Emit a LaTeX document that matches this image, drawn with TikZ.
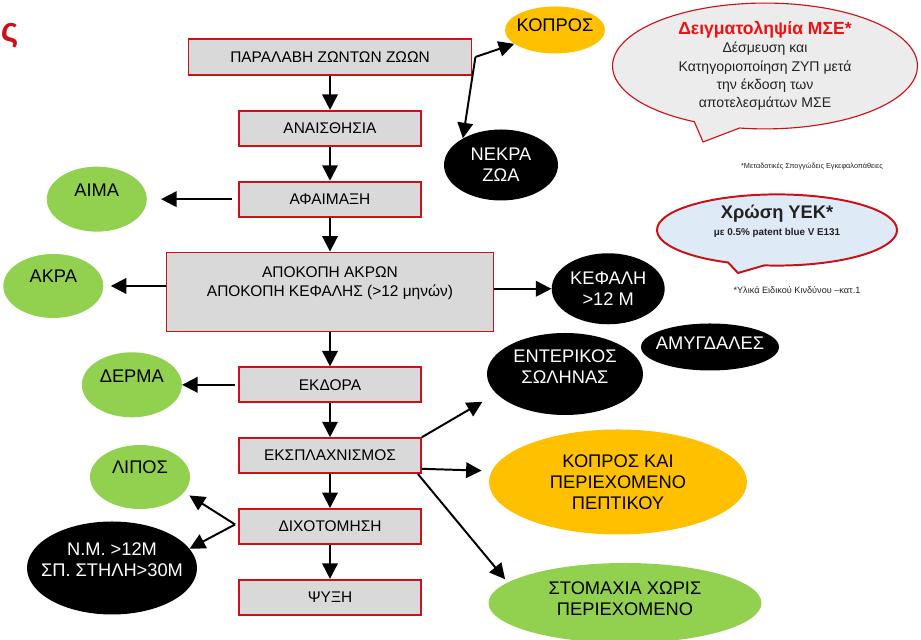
\documentclass[tikz,border=0pt]{standalone}
\usepackage{fontspec}
\setmainfont{Liberation Sans}
\usetikzlibrary{shapes.geometric,shapes.callouts,positioning,arrows.meta}
\definecolor{boxred}{HTML}{CC1018}
\definecolor{boxgray}{HTML}{D9D9D9}
\definecolor{leafgreen}{HTML}{92D050}
\definecolor{amber}{HTML}{FFC000}
\definecolor{calloutgray}{HTML}{ECECEC}
\definecolor{paleblue}{HTML}{DEEAF6}
\definecolor{alertred}{HTML}{EE1111}
\definecolor{darktext}{HTML}{222222}

\begin{document}
\begin{tikzpicture}
  [
    stage/.style={draw=boxred, fill=boxgray, line width=1.3pt, rectangle, minimum width=4.55cm, minimum height=0.875cm, inner sep=2pt, font=\fontsize{11}{13.5}\selectfont, align=center},
    blob/.style={ellipse, inner sep=0pt, font=\fontsize{13}{15}\selectfont, align=center},
    byprod/.style={blob, fill=leafgreen},
    feces/.style={blob, fill=amber},
    srm/.style={blob, fill=black, text=white},
    bubble/.style={ellipse callout, draw=boxred, inner sep=0pt, align=center, text=darktext, callout pointer arc=18},
    note/.style={font=\fontsize{6.5}{8}\selectfont, text=darktext, inner sep=0pt},
    node distance=0.85cm,
    arr/.style={-{Triangle[length=11pt,width=11pt]}, line width=1.4pt}
  ]
  \useasboundingbox (0,0) rectangle (23.025,16);

  % main line
  \node (parl) [stage, minimum width=7.075cm, minimum height=0.9cm] at (8.25,14.575) {ΠΑΡΑΛΑΒΗ ΖΩΝΤΩΝ ΖΩΩΝ};
  \node (anais) [stage, below=of parl] {ΑΝΑΙΣΘΗΣΙΑ};
  \node (afaim) [stage, below=of anais] {ΑΦΑΙΜΑΞΗ};
  \node (apok) [stage, below=of afaim, minimum width=8.175cm, minimum height=1.975cm, text depth=0.53cm] {ΑΠΟΚΟΠΗ ΑΚΡΩΝ\\ΑΠΟΚΟΠΗ ΚΕΦΑΛΗΣ (>12 μηνών)};
  \node (ekd) [stage, below=of apok] {ΕΚΔΟΡΑ};
  \node (eksp) [stage, below=of ekd] {ΕΚΣΠΛΑΧΝΙΣΜΟΣ};
  \node (dix) [stage, below=of eksp] {ΔΙΧΟΤΟΜΗΣΗ};
  \node (psyx) [stage, below=of dix] {ΨΥΞΗ};

  % by-products
  \node (aima) [byprod, left=2.275cm of afaim, minimum width=2.5cm, minimum height=1.625cm, text depth=0.45cm] {ΑΙΜΑ};
  \node (akra) [byprod, left=1.55cm of apok, yshift=0.15cm, minimum width=2.5cm, minimum height=1.6cm, text depth=0.5cm] {ΑΚΡΑ};
  \node (derma) [byprod, left=1.4cm of ekd, minimum width=2.5cm, minimum height=1.625cm, text depth=0.45cm] {ΔΕΡΜΑ};
  \node (lipos) [byprod, minimum width=2.5cm, minimum height=1.6cm, text depth=0.5cm] at (3.5,4.075) {ΛΙΠΟΣ};
  \node (stom) [byprod, minimum width=6.825cm, minimum height=2cm, text depth=0.2cm] at (15.625,0.925) {ΣΤΟΜΑΧΙΑ ΧΩΡΙΣ\\ΠΕΡΙΕΧΟΜΕΝΟ};
  \node (kopros) [feces, minimum width=2.5cm, minimum height=1.175cm, inner xsep=-0.15cm, text depth=0.25cm] at (13.875,15.25) {ΚΟΠΡΟΣ};
  \node (kopkai) [feces, minimum width=6.45cm, minimum height=2.625cm] at (15.45,3.95) {ΚΟΠΡΟΣ ΚΑΙ\\ΠΕΡΙΕΧΟΜΕΝΟ\\ΠΕΠΤΙΚΟΥ};

  % specified risk material
  \node (nekra) [srm, minimum width=2.85cm, minimum height=1.775cm] at (12.525,11.875) {ΝΕΚΡΑ\\ΖΩΑ};
  \node (kefali) [srm, right=1.425cm of apok, yshift=0.08cm, minimum width=2.825cm, minimum height=1.775cm] {ΚΕΦΑΛΗ\\>12 Μ};
  \node (enter) [srm, minimum width=3.9cm, minimum height=2.05cm, text depth=0.35cm] at (14.125,6.65) {ΕΝΤΕΡΙΚΟΣ\\ΣΩΛΗΝΑΣ};
  \node (amyg) [srm, minimum width=3.45cm, minimum height=1.175cm, inner xsep=-0.2cm, text depth=0.2cm] at (17.75,7.325) {ΑΜΥΓΔΑΛΕΣ};
  \node (nm) [srm, minimum width=4.25cm, minimum height=2.325cm, inner xsep=-0.3cm, text depth=0.4cm] at (2.8,1.8) {Ν.Μ. >12Μ\\ΣΠ. ΣΤΗΛΗ>30Μ};

  % callouts and notes
  \coordinate (tipA) at (17.575,12.45);
  \coordinate (tipB) at (18.45,9.175);
  \node (mse) [bubble, fill=calloutgray, line width=0.8pt, minimum width=7.625cm, minimum height=2.95cm, callout absolute pointer={(tipA)}, font=\fontsize{10}{13}\selectfont] at (19.125,14.35) {{\color{alertred}\bfseries\fontsize{12.5}{14}\selectfont Δειγματοληψία ΜΣΕ*}\\Δέσμευση και\\Κατηγοριοποίηση ΖΥΠ μετά\\την έκδοση των\\αποτελεσμάτων ΜΣΕ};
  \node (yek) [bubble, fill=paleblue, line width=1.4pt, minimum width=6cm, minimum height=1.65cm, callout absolute pointer={(tipB)}, font=\bfseries\fontsize{7}{12}\selectfont, text depth=0.5cm] at (19.425,10.25) {{\fontsize{13}{15}\selectfont Χρώση ΥΕΚ*}\\με 0.5\% patent blue V E131};
  \node (fnA) [note, font=\fontsize{5.2}{6}\selectfont] at (20.3,11.825) {*Μεταδοτικές Σπογγώδεις Εγκεφαλοπάθειες};
  \node (fnB) [note] at (19.925,8.75) {*Υλικά Ειδικού Κινδύνου –κατ.1};
  \node (sig) [text=boxred, font=\bfseries\fontsize{24}{24}\selectfont, anchor=base east, inner sep=0pt] at (0.47,14.95) {ς};

  \draw [arr] (parl) -- (anais);
  \draw [arr] (anais) -- (afaim);
  \draw [arr] (afaim) -- (apok);
  \draw [arr] (apok) -- (ekd);
  \draw [arr] (ekd) -- (eksp);
  \draw [arr] (eksp) -- (dix);
  \draw [arr] (dix) -- (psyx);

  \coordinate (split) at ([xshift=0.075cm]parl.east);
  \draw [arr] (split) -- (kopros);
  \draw [arr] (split) -- (nekra.145);
  \draw [arr, shorten <=0.15cm, shorten >=0.35cm] (afaim.west) -- (afaim.west -| aima.east);
  \draw [arr, shorten >=0.18cm] (apok.west |- akra.east) -- (akra.east);
  \draw [arr] (apok.east |- kefali.west) -- (kefali.west);
  \draw [arr, shorten <=0.08cm] (ekd.west) -- (ekd.west -| derma.east);
  \draw [arr, shorten >=0.4cm] (eksp.north east) -- (enter.196);
  \draw [arr, shorten >=0.25cm] ([yshift=-0.33cm]eksp.east) -- (kopkai.175);
  \draw [arr, shorten >=0.1cm] ([xshift=-0.1cm]eksp.south east) -- (stom.170);
  \coordinate (cut) at ([xshift=-0.075cm,yshift=0.05cm]dix.west);
  \draw [arr, shorten >=0.15cm] (cut) -- (lipos.-19);
  \draw [arr] (cut) -- (nm.14);
\end{tikzpicture}
\end{document}
